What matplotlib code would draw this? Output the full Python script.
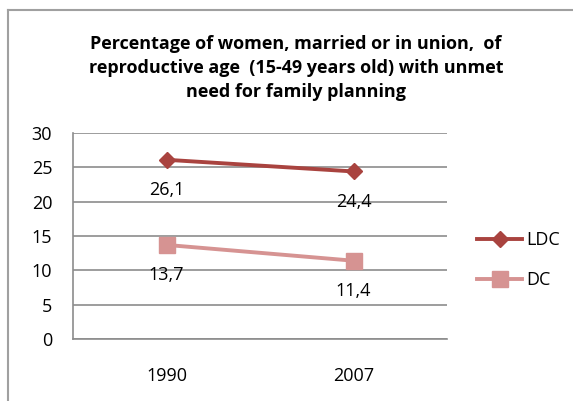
import matplotlib
matplotlib.use("Agg")
import matplotlib.pyplot as plt
from matplotlib.lines import Line2D

years = ["1990", "2007"]
ldc = [26.1, 24.4]
dc = [13.7, 11.4]
series_names = ["LDC", "DC"]
yticks = [0, 5, 10, 15, 20, 25, 30]
title = ("Percentage of women, married or in union,  of\n"
         "reproductive age  (15-49 years old) with unmet\n"
         "need for family planning")

plt.rcParams['font.family'] = ['Open Sans', 'DejaVu Sans']

fig = plt.figure(figsize=(5.73, 4.01), dpi=100)
ax = fig.add_axes([73/573, 1-339/401, (447-73)/573, (339-133)/401])

c_ldc = '#A9433F'
c_dc = '#D69392'
x = list(range(len(years)))
ax.plot(x, ldc, color=c_ldc, lw=2.8, marker='D', markersize=8, label=series_names[0])
ax.plot(x, dc, color=c_dc, lw=2.8, marker='s', markersize=11, label=series_names[1])

for xi, v in zip(x, ldc):
    ax.annotate(f"{v:.1f}".replace('.', ','), (xi, v), xytext=(0, -22),
                textcoords='offset points', ha='center', va='center', fontsize=13)
for xi, v in zip(x, dc):
    ax.annotate(f"{v:.1f}".replace('.', ','), (xi, v), xytext=(0, -22),
                textcoords='offset points', ha='center', va='center', fontsize=13)

ax.set_xlim(-0.5, 1.5)
ax.set_ylim(0, 30)
ax.set_yticks(yticks)
ax.set_xticks(x)
ax.set_xticklabels(years)
ax.tick_params(axis='both', length=0, labelsize=13)
ax.tick_params(axis='y', pad=15)
ax.tick_params(axis='x', pad=20)
ax.grid(axis='y', color='#8C8C8C', lw=1.2)
ax.set_axisbelow(True)
for s in ['top', 'right']:
    ax.spines[s].set_visible(False)
ax.spines['left'].set_color('#8C8C8C')
ax.spines['bottom'].set_color('#8C8C8C')
ax.spines['left'].set_linewidth(1.2)
ax.spines['bottom'].set_linewidth(1.2)

fig.text(296/573, 1-68/401, title, ha='center', va='center', fontsize=13,
         fontweight='bold', linespacing=1.4)

leg = ax.legend(loc='center left', bbox_to_anchor=(477/573, 1-260/401),
                bbox_transform=fig.transFigure, frameon=False, fontsize=13,
                handlelength=2.5, handletextpad=0.25, labelspacing=1.2,
                borderpad=0, borderaxespad=0)

fig.add_artist(Line2D([8/573, 8/573], [0, 1-10/401], color='#A0A0A0', lw=1.5,
                      transform=fig.transFigure))
fig.add_artist(Line2D([8/573, 1], [1-10/401, 1-10/401], color='#A0A0A0', lw=1.5,
                      transform=fig.transFigure))

fig.savefig("out.png", dpi=100)
